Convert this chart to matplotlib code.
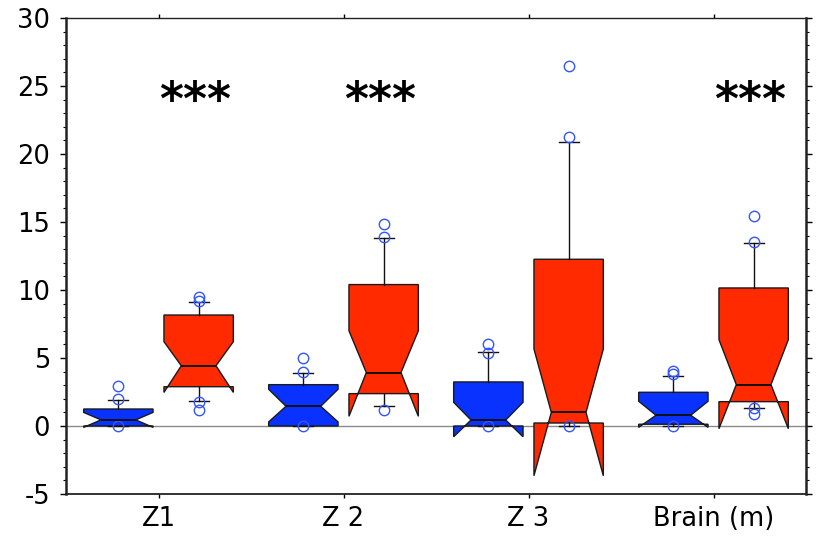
import matplotlib
matplotlib.use("Agg")
import matplotlib.pyplot as plt
from matplotlib.ticker import MultipleLocator

plt.rcParams['font.family'] = ['DejaVu Sans']
plt.rcParams['axes.unicode_minus'] = False

categories = ["Z1", "Z 2", "Z 3", "Brain (m)"]

# Blue group (box statistics)
blue_whislo = [0.0, 0.0, 0.0, 0.0]
blue_q1     = [0.0, 0.0, 0.0, 0.13]
blue_med    = [0.45, 1.45, 0.44, 0.79]
blue_q3     = [1.25, 3.04, 3.24, 2.48]
blue_whishi = [1.93, 3.93, 5.46, 3.70]
blue_cilo   = [-0.10, 0.30, -0.79, -0.10]
blue_cihi   = [1.00, 2.70, 1.74, 1.82]
blue_fliers = [[0.0, 1.98, 2.96], [0.0, 3.99, 4.97], [0.0, 5.40, 6.03], [0.0, 3.80, 4.05]]

# Red group
red_whislo = [1.81, 1.46, 0.0, 1.35]
red_q1     = [2.89, 2.38, 0.22, 1.79]
red_med    = [4.43, 3.93, 1.00, 3.04]
red_q3     = [8.16, 10.40, 12.26, 10.15]
red_whishi = [9.14, 13.80, 20.86, 13.48]
red_cilo   = [2.47, 0.71, -3.66, -0.20]
red_cihi   = [6.20, 7.00, 5.66, 6.35]
red_fliers = [[1.80, 1.20, 9.20, 9.46], [1.20, 13.90, 14.86], [0.0, 21.25, 26.48], [1.35, 0.91, 13.50, 15.47]]

significance = ["***", "***", "", "***"]

def make_stats(whislo, q1, med, q3, whishi, cilo, cihi, fliers):
    return [dict(whislo=a, q1=b, med=c, q3=d, whishi=e, cilo=f, cihi=g, fliers=h)
            for a, b, c, d, e, f, g, h in zip(whislo, q1, med, q3, whishi, cilo, cihi, fliers)]

blue_stats = make_stats(blue_whislo, blue_q1, blue_med, blue_q3, blue_whishi, blue_cilo, blue_cihi, blue_fliers)
red_stats = make_stats(red_whislo, red_q1, red_med, red_q3, red_whishi, red_cilo, red_cihi, red_fliers)

fig = plt.figure(figsize=(8.21, 5.40), dpi=100)
ax = fig.add_axes([66/821, 1-494/540, (806-66)/821, (494-18)/540])

pos = list(range(1, len(categories) + 1))
off = 0.217
w = 0.375

ax.axhline(0, color='#8a8a8a', lw=1.0, zorder=1)

def draw(stats, positions, color):
    ax.bxp(stats, positions=positions, widths=w, shownotches=True, patch_artist=True,
           capwidths=0.108, manage_ticks=False,
           boxprops=dict(facecolor=color, edgecolor='#1a1a1a', linewidth=1.0),
           medianprops=dict(color='#111111', linewidth=1.4),
           whiskerprops=dict(color='#111111', linewidth=1.0),
           capprops=dict(color='#111111', linewidth=1.0),
           flierprops=dict(marker='o', markerfacecolor='none', markeredgecolor='#3355ff',
                           markersize=7.5, markeredgewidth=1.0, linestyle='none'),
           zorder=3)

draw(blue_stats, [p - off for p in pos], '#0a32ff')
draw(red_stats, [p + off for p in pos], '#ff2a00')

for p, s in zip(pos, significance):
    if s:
        ax.text(p + 0.2, 23.8, s, ha='center', va='center', fontsize=33,
                fontweight='bold', color='black')

ax.set_xlim(0.5, 4.5)
ax.set_ylim(-5, 30)
ax.set_xticks(pos)
ax.set_xticklabels(categories)
ax.yaxis.set_major_locator(MultipleLocator(5))
ax.yaxis.set_minor_locator(MultipleLocator(1))

ax.tick_params(axis='y', which='major', direction='out', length=4.5, width=1.0,
               labelsize=18.5, pad=7, left=True, right=True, labelright=False)
ax.tick_params(axis='y', which='minor', direction='out', length=2.5, width=0.8,
               left=True, right=True)
ax.tick_params(axis='x', which='major', direction='out', length=3, width=1.0,
               labelsize=18.5, pad=6, top=True, bottom=True)

ax.spines['left'].set_linewidth(1.8)
ax.spines['right'].set_linewidth(1.8)
ax.spines['bottom'].set_linewidth(1.3)
ax.spines['top'].set_linewidth(1.0)
for sp in ax.spines.values():
    sp.set_color('#222222')

fig.savefig("out.png", dpi=100)
